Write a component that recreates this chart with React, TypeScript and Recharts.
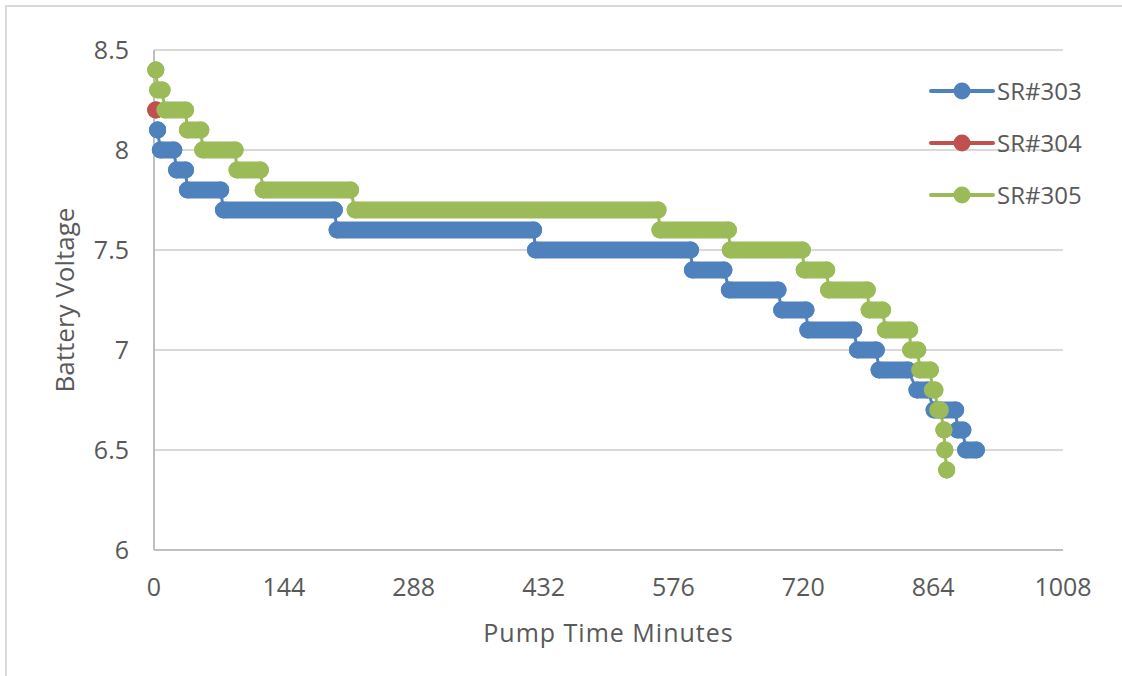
import React from 'react';
import { LineChart, Line, XAxis, YAxis, CartesianGrid } from 'recharts';

// Tick values
const xTicks = [0, 144, 288, 432, 576, 720, 864, 1008];
const yTicks = [6, 6.5, 7, 7.5, 8, 8.5];

// Each step: [first minute, last minute, battery voltage]
type Step = [number, number, number];

const sr303Steps: Step[] = [
  [4, 4, 8.1],
  [7, 22, 8.0],
  [25, 35, 7.9],
  [37, 74, 7.8],
  [77, 200, 7.7],
  [203, 421, 7.6],
  [423, 595, 7.5],
  [597, 632, 7.4],
  [638, 692, 7.3],
  [696, 723, 7.2],
  [725, 776, 7.1],
  [780, 801, 7.0],
  [804, 836, 6.9],
  [846, 858, 6.8],
  [865, 889, 6.7],
  [891, 897, 6.6],
  [900, 912, 6.5],
];

const sr304Steps: Step[] = [[2, 2, 8.2]];

const sr305Steps: Step[] = [
  [2, 2, 8.4],
  [4, 9, 8.3],
  [12, 35, 8.2],
  [37, 52, 8.1],
  [54, 90, 8.0],
  [92, 118, 7.9],
  [121, 218, 7.8],
  [223, 559, 7.7],
  [561, 637, 7.6],
  [639, 719, 7.5],
  [721, 746, 7.4],
  [748, 791, 7.3],
  [793, 808, 7.2],
  [811, 838, 7.1],
  [839, 847, 7.0],
  [849, 861, 6.9],
  [863, 866, 6.8],
  [869, 872, 6.7],
  [876, 876, 6.6],
  [877, 877, 6.5],
  [879, 879, 6.4],
];

const seriesNames = ['SR#303', 'SR#304', 'SR#305'];
const seriesColors = ['#4F81BD', '#C0504D', '#9BBB59'];
const seriesSteps = [sr303Steps, sr304Steps, sr305Steps];

const FONT = '"Open Sans", sans-serif';
const TEXT = '#595959';

type Pt = { t: number; v: number | null };

function toPoints(steps: Step[]): Pt[] {
  const out: Pt[] = [];
  steps.forEach(([s, e, v]) => {
    out.push({ t: s, v });
    out.push({ t: e, v });
  });
  return out;
}

function toBars(steps: Step[]): Pt[] {
  const out: Pt[] = [];
  steps.forEach(([s, e, v]) => {
    out.push({ t: s, v });
    out.push({ t: e, v });
    out.push({ t: e, v: null });
  });
  return out;
}

function LegendBox() {
  return (
    <svg
      width={200}
      height={180}
      style={{ position: 'absolute', left: 925, top: 50, overflow: 'visible' }}
    >
      {seriesNames.map((name, i) => {
        const cy = 41 + i * 52;
        return (
          <g key={name}>
            <line x1={6} x2={68} y1={cy} y2={cy} stroke={seriesColors[i]} strokeWidth={4} strokeLinecap="round" />
            <circle cx={37} cy={cy} r={8.5} fill={seriesColors[i]} />
            <text x={72} y={cy} dy="0.36em" fontFamily={FONT} fontSize={24} fill={TEXT}>
              {name}
            </text>
          </g>
        );
      })}
    </svg>
  );
}

export default function App() {
  return (
    <div
      style={{
        position: 'absolute',
        left: 0,
        top: 0,
        width: 1122,
        height: 676,
        overflow: 'hidden',
        background: '#fff',
      }}
    >
      <div
        style={{
          position: 'absolute',
          left: 5,
          top: 5,
          width: 1300,
          height: 900,
          border: '2px solid #D9D9D9',
        }}
      />
      <div style={{ position: 'absolute', left: 0, top: 0 }}>
        <LineChart width={1122} height={676} margin={{ top: 50, right: 59, bottom: 66, left: 0 }}>
          <CartesianGrid vertical={false} stroke="#D9D9D9" strokeWidth={2} />
          <XAxis
            dataKey="t"
            type="number"
            domain={[0, 1008]}
            ticks={xTicks}
            height={60}
            tickSize={0}
            tickMargin={28}
            tickLine={false}
            axisLine={{ stroke: '#BFBFBF', strokeWidth: 2 }}
            tick={{ fill: TEXT, fontSize: 25, fontFamily: FONT }}
            label={{
              value: 'Pump Time Minutes',
              position: 'bottom',
              offset: 14,
              fill: TEXT,
              fontSize: 25,
              fontFamily: FONT,
              style: { letterSpacing: '1px' },
            }}
          />
          <YAxis
            type="number"
            domain={[6, 8.5]}
            ticks={yTicks}
            width={154}
            tickSize={0}
            tickMargin={25}
            tickLine={false}
            axisLine={{ stroke: '#BFBFBF', strokeWidth: 2 }}
            tick={{ fill: TEXT, fontSize: 25, fontFamily: FONT }}
            label={{
              value: 'Battery Voltage',
              angle: -90,
              position: 'insideLeft',
              offset: 65,
              fill: TEXT,
              fontSize: 26,
              fontFamily: FONT,
              style: { textAnchor: 'middle' },
            }}
          />
          {seriesSteps.map((steps, i) => (
            <Line
              key={'thin' + i}
              data={toPoints(steps)}
              dataKey="v"
              name={seriesNames[i] + ' line'}
              stroke={seriesColors[i]}
              strokeWidth={3}
              strokeLinejoin="round"
              dot={false}
              activeDot={false}
              isAnimationActive={false}
            />
          ))}
          {seriesSteps.map((steps, i) => (
            <Line
              key={'bar' + i}
              data={toBars(steps)}
              dataKey="v"
              name={seriesNames[i]}
              stroke={seriesColors[i]}
              strokeWidth={17}
              strokeLinecap="round"
              connectNulls={false}
              dot={{ r: 8.5, fill: seriesColors[i], stroke: 'none', strokeWidth: 0 }}
              activeDot={false}
              isAnimationActive={false}
            />
          ))}
        </LineChart>
      </div>
      <LegendBox />
    </div>
  );
}
